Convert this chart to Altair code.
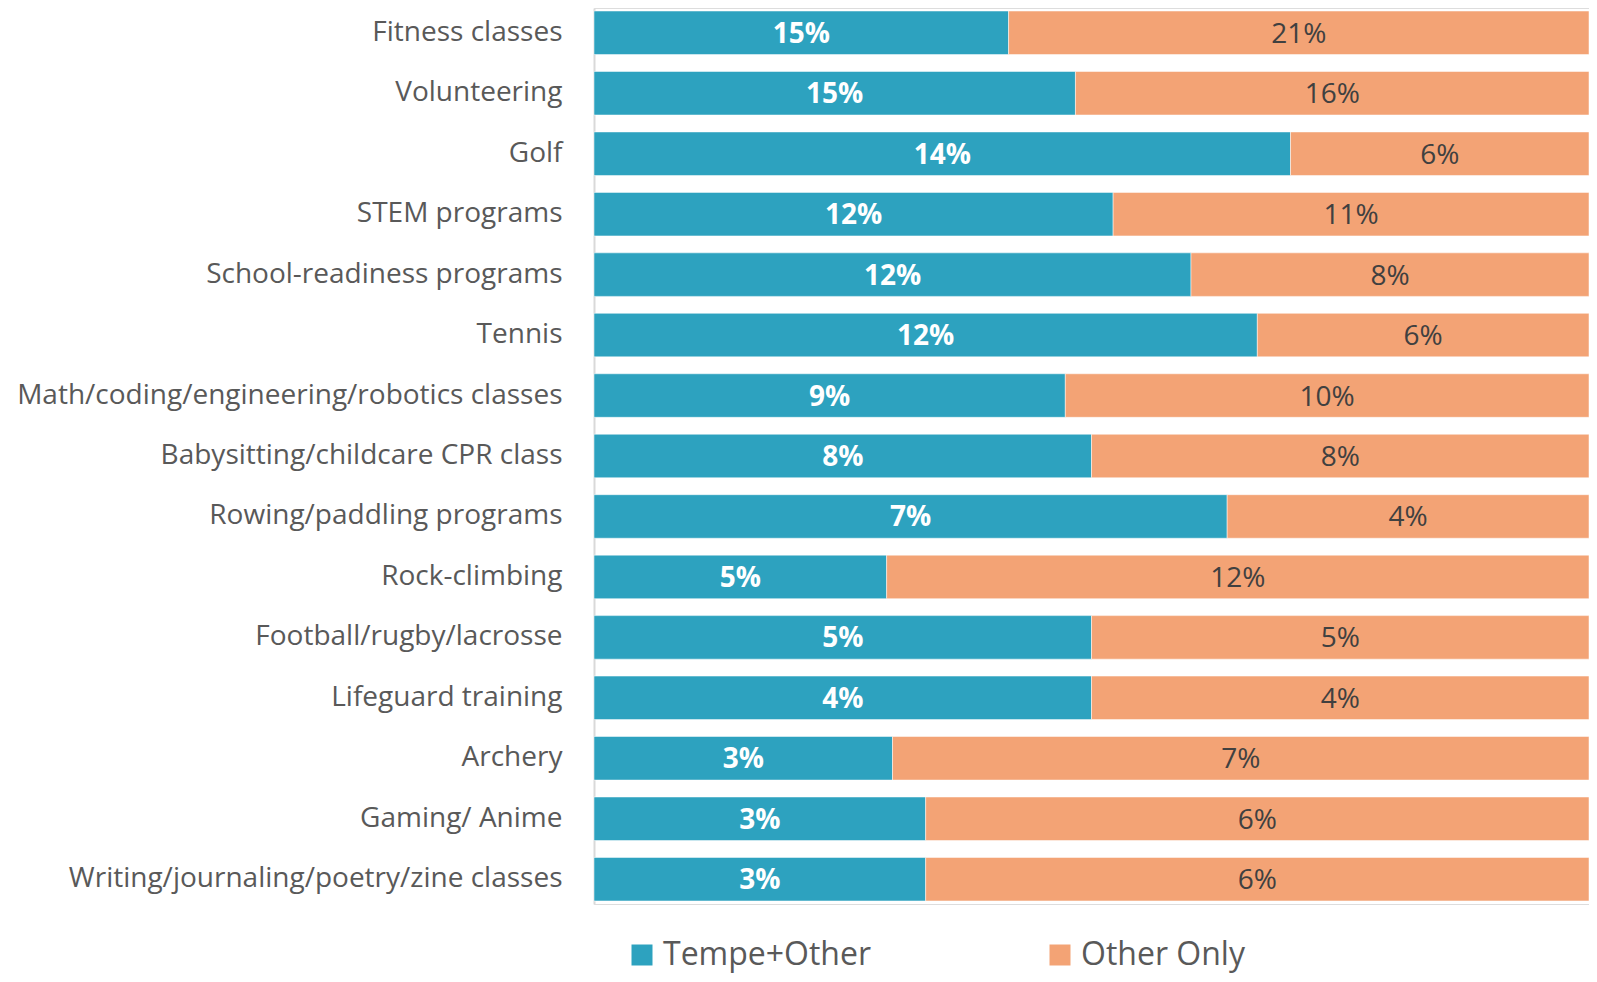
import altair as alt
import pandas as pd

activities = [
    "Fitness classes", "Volunteering", "Golf", "STEM programs",
    "School-readiness programs", "Tennis",
    "Math/coding/engineering/robotics classes",
    "Babysitting/childcare CPR class", "Rowing/paddling programs",
    "Rock-climbing", "Football/rugby/lacrosse", "Lifeguard training",
    "Archery", "Gaming/ Anime", "Writing/journaling/poetry/zine classes",
]
tempe_other = [15, 15, 14, 12, 12, 12, 9, 8, 7, 5, 5, 4, 3, 3, 3]
other_only = [21, 16, 6, 11, 8, 6, 10, 8, 4, 12, 5, 4, 7, 6, 6]
series = ["Tempe+Other", "Other Only"]
colors = ["#2DA2BF", "#F3A375"]

rows = []
for a, t, o in zip(activities, tempe_other, other_only):
    rows.append({"activity": a, "series": series[0], "order": 0, "value": t, "label": f"{t}%"})
    rows.append({"activity": a, "series": series[1], "order": 1, "value": o, "label": f"{o}%"})
df = pd.DataFrame(rows)

FONT = "Open Sans"

base = alt.Chart(df).transform_stack(
    stack="value", groupby=["activity"], as_=["x0", "x1"],
    offset="normalize", sort=[alt.SortField("order", order="ascending")],
).transform_calculate(mid="(datum.x0 + datum.x1) / 2")

y_enc = alt.Y(
    "activity:N", sort=activities, title=None,
    scale=alt.Scale(paddingInner=0.28, paddingOuter=0.05),
    axis=alt.Axis(
        labelFont=FONT, labelFontSize=28, labelColor="#595959",
        labelPadding=32, ticks=False, domainColor="#D9D9D9", domainWidth=2,
        labelLimit=600,
    ),
)
x_scale = alt.Scale(domain=[0, 1], nice=False)

bars = base.mark_bar(stroke="white", strokeWidth=0.5).encode(
    y=y_enc,
    x=alt.X("x0:Q", scale=x_scale, axis=None, title=None),
    x2="x1:Q",
    color=alt.Color(
        "series:N", sort=series,
        scale=alt.Scale(domain=series, range=colors),
        legend=alt.Legend(
            title=None, orient="none", legendX=32, legendY=931,
            direction="horizontal", symbolType="square", symbolSize=441,
            symbolStrokeWidth=0, labelFont=FONT, labelFontSize=32,
            labelColor="#595959", labelOffset=5, columnPadding=172,
            gridAlign="all", labelLimit=400, padding=0,
        ),
    ),
)

text_t = base.transform_filter(alt.datum.order == 0).mark_text(
    font=FONT, fontSize=28, fontWeight="bold", color="white", baseline="middle", dy=2,
).encode(
    y=alt.Y("activity:N", sort=activities),
    x=alt.X("mid:Q", scale=x_scale),
    text="label:N",
)
text_o = base.transform_filter(alt.datum.order == 1).mark_text(
    font=FONT, fontSize=28, color="#404040", baseline="middle", dy=2,
).encode(
    y=alt.Y("activity:N", sort=activities),
    x=alt.X("mid:Q", scale=x_scale),
    text="label:N",
)

chart = alt.layer(bars, text_t, text_o).properties(
    width=995, height=896,
    autosize=alt.AutoSizeParams(type="none"),
    padding={"left": 586, "top": 0, "right": 0, "bottom": 70},
).configure_view(stroke=None).configure(background="white")

chart.save("out.html", embed_options={"renderer": "svg", "actions": False})
